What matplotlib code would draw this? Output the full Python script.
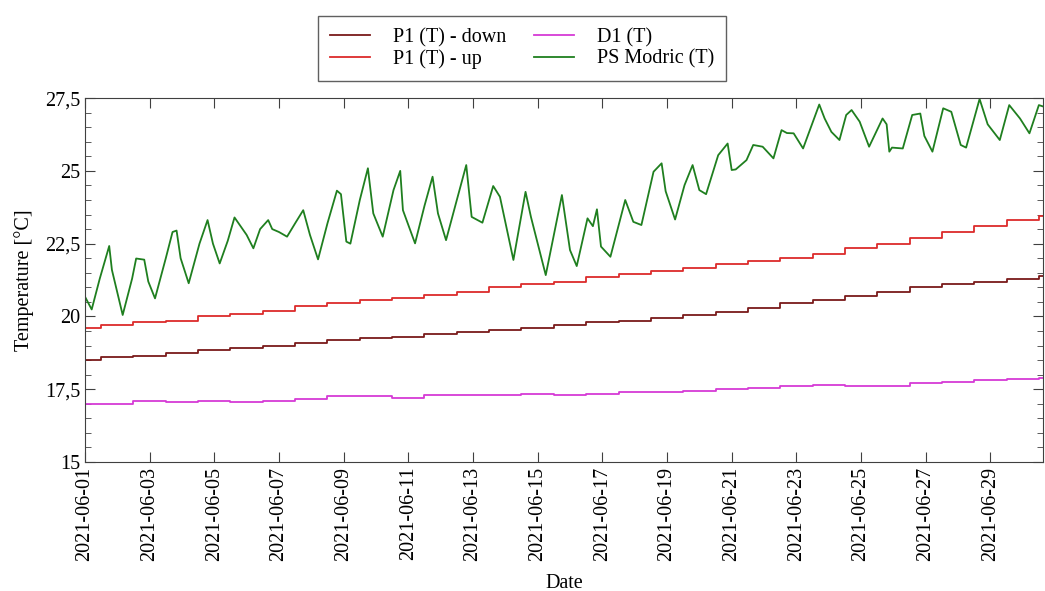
import numpy as np
import matplotlib
matplotlib.use("Agg")
import matplotlib.pyplot as plt
import matplotlib.dates as mdates
from matplotlib.ticker import MultipleLocator, FuncFormatter

plt.rcParams["font.family"] = ["Liberation Serif", "DejaVu Serif"]
plt.rcParams["font.size"] = 14.5

start = np.datetime64("2021-06-01T00:00")
days = start + np.arange(31) * np.timedelta64(1, "D")

# daily readings of the slow sensors (06-01 .. 07-01)
p1_down = [18.5, 18.6, 18.65, 18.75, 18.85, 18.9, 19.0, 19.1, 19.2, 19.25,
           19.3, 19.4, 19.45, 19.55, 19.6, 19.7, 19.8, 19.85, 19.95, 20.05,
           20.15, 20.3, 20.45, 20.55, 20.7, 20.85, 21.0, 21.1, 21.2, 21.3, 21.4]
p1_up = [19.6, 19.7, 19.8, 19.85, 20.0, 20.1, 20.2, 20.35, 20.45, 20.55,
         20.65, 20.75, 20.85, 21.0, 21.1, 21.2, 21.35, 21.45, 21.55, 21.65,
         21.8, 21.9, 22.0, 22.15, 22.35, 22.5, 22.7, 22.9, 23.1, 23.3, 23.45]
d1 = [17.0, 17.0, 17.1, 17.05, 17.1, 17.05, 17.1, 17.15, 17.25, 17.25,
      17.2, 17.3, 17.3, 17.3, 17.35, 17.3, 17.35, 17.4, 17.4, 17.45,
      17.5, 17.55, 17.6, 17.65, 17.6, 17.6, 17.7, 17.75, 17.8, 17.85, 17.9]

# PS Modric: hours since 06-01 00:00 and temperature
ps_hours = [0, 5, 11, 18, 20, 28, 35, 38, 44, 47, 52, 60, 65, 68, 71, 77, 85,
            91, 95, 100, 106, 111, 117, 120, 125, 130, 136, 139, 144, 150, 156,
            162, 167, 173, 180, 187, 190, 194, 197, 204, 210, 214, 221, 229,
            234, 236, 245, 252, 258, 262, 268, 276, 283, 287, 295, 303, 308,
            318, 327, 331, 342, 354, 360, 365, 373, 377, 380, 383, 390, 401,
            407, 413, 422, 428, 431, 438, 445, 451, 456, 461, 470, 477, 480,
            483, 491, 496, 503, 511, 517, 521, 526, 533, 545, 549, 554, 560,
            565, 569, 575, 582, 592, 595, 597, 599, 607, 614, 620, 623, 629,
            637, 643, 650, 654, 664, 670, 679, 686, 694, 701, 708, 712]
ps_modric = [20.68, 20.24, 21.3, 22.42, 21.6, 20.05, 21.3, 21.99, 21.95, 21.2,
             20.62, 22.0, 22.9, 22.95, 22.0, 21.14, 22.5, 23.31, 22.5, 21.82,
             22.6, 23.4, 23.0, 22.8, 22.34, 23.0, 23.31, 23.0, 22.9, 22.74,
             23.2, 23.65, 22.8, 21.96, 23.2, 24.32, 24.2, 22.57, 22.5, 24.0,
             25.09, 23.54, 22.74, 24.34, 25.0, 23.65, 22.51, 23.8, 24.8, 23.54,
             22.62, 24.0, 25.2, 23.42, 23.22, 24.48, 24.11, 21.94, 24.28, 23.42,
             21.42, 24.17, 22.28, 21.73, 23.37, 23.1, 23.68, 22.4, 22.05, 24.0,
             23.25, 23.14, 24.97, 25.26, 24.3, 23.33, 24.51, 25.2, 24.34, 24.2,
             25.54, 25.94, 25.03, 25.05, 25.37, 25.89, 25.83, 25.43, 26.4, 26.3,
             26.29, 25.77, 27.28, 26.8, 26.34, 26.06, 26.92, 27.09, 26.69, 25.83,
             26.8, 26.6, 25.66, 25.8, 25.77, 26.92, 26.97, 26.2, 25.66, 27.15,
             27.03, 25.89, 25.8, 27.47, 26.6, 26.06, 27.26, 26.8, 26.29, 27.26,
             27.2]
ps_time = start + np.array(ps_hours) * np.timedelta64(1, "h")

fig = plt.figure(figsize=(10.45, 5.91), dpi=100)
ax = fig.add_axes([0.0813, 0.2183, 0.9167, 0.6157])

ax.plot(days, p1_down, color="#7a1a1a", lw=1.3, drawstyle="steps-mid", label="P1 (T) - down")
ax.plot(days, p1_up, color="#dc2b2b", lw=1.3, drawstyle="steps-mid", label="P1 (T) - up")
ax.plot(days, d1, color="#d63ad6", lw=1.3, drawstyle="steps-mid", label="D1 (T)")
ax.plot(ps_time, ps_modric, color="#1f7f1f", lw=1.3, label="PS Modric (T)")

ax.set_ylim(15, 27.5)
ax.set_xlim(start, np.datetime64("2021-06-30T15:00"))
ax.yaxis.set_major_locator(MultipleLocator(2.5))
ax.yaxis.set_minor_locator(MultipleLocator(0.5))
ax.yaxis.set_major_formatter(FuncFormatter(lambda v, p: f"{v:g}".replace(".", ",")))
ax.xaxis.set_major_locator(mdates.DayLocator(interval=2))
ax.xaxis.set_major_formatter(mdates.DateFormatter("%Y-%m-%d"))
plt.setp(ax.get_xticklabels(), rotation=90)

ax.tick_params(which="both", direction="in", top=True, right=True, colors="#404040", labelcolor="black")
ax.tick_params(which="major", length=7, labelsize=14.5)
ax.tick_params(which="minor", length=4)
for s in ax.spines.values():
    s.set_color("#404040")

ax.set_ylabel("Temperature [°C]", fontsize=14.5, labelpad=8)
ax.set_xlabel("Date", fontsize=14.5, labelpad=9)

fig.legend(loc="upper center", bbox_to_anchor=(0.4995, 0.99), ncol=2, fancybox=False,
           edgecolor="#606060", framealpha=1, handlelength=2.0, handletextpad=1.1,
           columnspacing=1.4, labelspacing=0.1, borderpad=0.6, fontsize=14.5)

fig.savefig("out.png", dpi=100)
